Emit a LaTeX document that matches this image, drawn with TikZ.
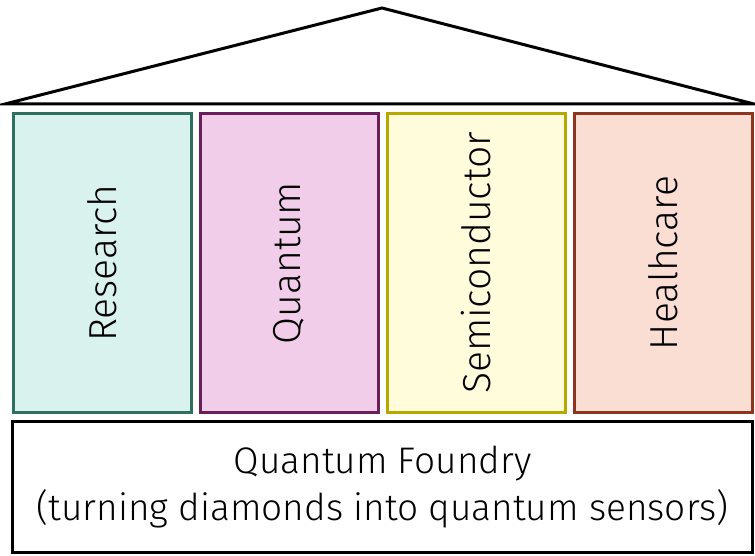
\documentclass[tikz,border=0pt]{standalone}
\usepackage{fontspec}
\setmainfont{Fira Sans Light}
\begin{document}
\begin{tikzpicture}[x=1pt,y=-1pt,
  pillar/.style={draw,line width=3pt,minimum width=178pt,minimum height=298pt,inner sep=0pt},
  lbl/.style={font=\fontsize{39}{44}\selectfont,rotate=90},
  ]
\useasboundingbox (0,0) rectangle (755,556);
\definecolor{resF}{HTML}{D9F2EE}\definecolor{resD}{HTML}{2F6F5F}
\definecolor{quaF}{HTML}{F2CDE9}\definecolor{quaD}{HTML}{6A1F5A}
\definecolor{semF}{HTML}{FFFCDC}\definecolor{semD}{HTML}{B5A800}
\definecolor{heaF}{HTML}{FADDD3}\definecolor{heaD}{HTML}{8E3520}
\coordinate (rl) at (5,104);
\coordinate (rt) at (382,8);
\coordinate (rr) at (754,104);
\draw[line width=3pt,line join=miter] (rl) -- (rt) -- (rr) -- cycle;
\node[pillar,fill=resF,draw=resD] (p1) at (102,263) {};
\node[pillar,fill=quaF,draw=quaD] (p2) at (289,263) {};
\node[pillar,fill=semF,draw=semD] (p3) at (476,263) {};
\node[pillar,fill=heaF,draw=heaD] (p4) at (663,263) {};
\node[lbl] (t1) at (p1) {Research};
\node[lbl] (t2) at (p2) {Quantum};
\node[lbl] (t3) at (p3) {Semiconductor};
\node[lbl] (t4) at (p4) {Healhcare};
\node[draw,line width=3pt,minimum width=740pt,minimum height=131pt,inner sep=0pt] (base) at (382.5,487) {};
\node[font=\fontsize{37}{47}\selectfont,align=center] (bt) at (base) {Quantum Foundry\\(turning diamonds into quantum sensors)};
\end{tikzpicture}
\end{document}
